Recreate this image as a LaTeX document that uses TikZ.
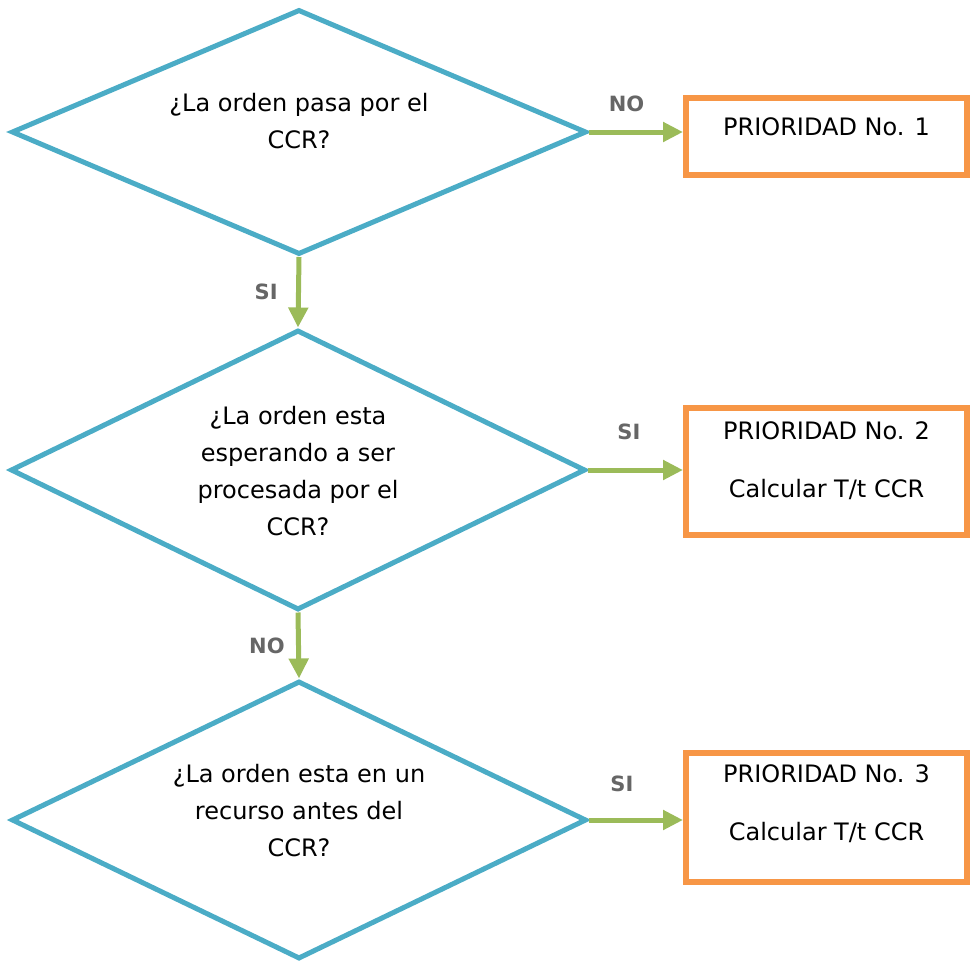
\documentclass[tikz,border=0pt]{standalone}
\usepackage{fontspec}
\setmainfont{DejaVu Sans}
\usetikzlibrary{shapes.geometric,arrows.meta,positioning}
\definecolor{azulrombo}{HTML}{4BACC6}
\definecolor{verdeflecha}{HTML}{9BBB59}
\definecolor{naranjacaja}{HTML}{F79646}
\definecolor{grisetiq}{HTML}{666666}
\begin{document}
\begin{tikzpicture}[x=1pt, y=-1pt,
    pregunta/.style={diamond, aspect=2, draw=azulrombo, line width=5pt,
        minimum width=575pt, inner sep=0pt},
    prioridad/.style={rectangle, draw=naranjacaja, line width=6pt, minimum width=281pt},
    texto/.style={align=center, font=\fontsize{24}{37}\selectfont},
    textocaja/.style={align=center, font=\fontsize{24}{58}\selectfont},
    conector/.style={draw=verdeflecha, line width=5pt,
        -{Triangle[width=19pt, length=20pt, fill=verdeflecha]}},
    etiqueta/.style={text=grisetiq, font=\fontsize{21}{21}\selectfont\bfseries}]

            \useasboundingbox (0,0) rectangle (972,961);

            \node[pregunta, minimum height=245pt] (d1) at (299,132) {};
            \node[pregunta, minimum height=280pt] (d2) at (298,470) {};
            \node[pregunta, minimum height=278pt] (d3) at (299,820) {};

            \node[texto] (q1) at ([yshift=10.5pt]d1.center) {¿La orden pasa por el\\CCR?};
            \node[texto] (q2) at ([yshift=-1pt]d2.center)
                {¿La orden esta\\esperando a ser\\procesada por el\\CCR?};
            \node[texto] (q3) at ([yshift=9pt]d3.center)
                {¿La orden esta en un\\recurso antes del\\CCR?};

            \node[prioridad, minimum height=77pt] (p1) at (826.5,136.5) {};
            \node[prioridad, minimum height=127pt] (p2) at (826.5,471.5) {};
            \node[prioridad, minimum height=129pt] (p3) at (826.5,817.5) {};

            \node[textocaja] (t1) at ([yshift=-32pt]p1.north) {PRIORIDAD No. 1};
            \node[textocaja] (t2) at ([yshift=-56pt]p2.north) {PRIORIDAD No. 2\\Calcular T/t CCR};
            \node[textocaja] (t3) at ([yshift=-53.5pt]p3.north) {PRIORIDAD No. 3\\Calcular T/t CCR};

            \draw[conector] (d1.east) -- (d1.east -| p1.west)
                node[etiqueta, pos=0.4, above=14pt] {NO};
            \draw[conector] (d2.east) -- (d2.east -| p2.west)
                node[etiqueta, pos=0.43, above=24pt] {SI};
            \draw[conector] (d3.east) -- (d3.east -| p3.west)
                node[etiqueta, pos=0.35, above=22pt] {SI};

            \draw[conector] (d1.south) -- (d2.north)
                node[etiqueta, midway, left=15pt] {SI};
            \draw[conector] (d2.south) -- (d3.north)
                node[etiqueta, midway, left=8pt] {NO};
        \end{tikzpicture}
\end{document}
